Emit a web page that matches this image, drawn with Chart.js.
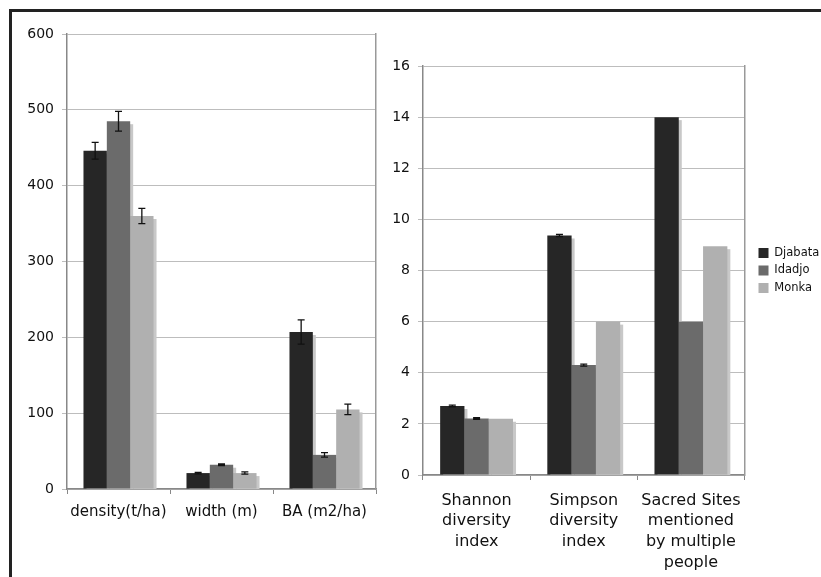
<!DOCTYPE html>
<html lang="en">
<head>
<meta charset="UTF-8">
<script src="https://cdn.jsdelivr.net/npm/chart.js"></script>
<title>Forest metrics</title>
<style>
  html, body { margin: 0; padding: 0; background: #fff; }
  #page { position: relative; width: 821px; height: 577px; overflow: hidden; }
  #frame { position: absolute; left: 9px; top: 9px; right: -10px; bottom: -10px;
           border-left: 3px solid #222; border-top: 3px solid #222; }
  .box { position: absolute; top: 0; height: 577px; }
</style>
</head>
<body>
<div id="page">
  <div id="frame"></div>
  <div class="box" style="left:0;width:400px"><canvas id="left"></canvas></div>
  <div class="box" style="left:390px;width:435px"><canvas id="right"></canvas></div>
</div>
<script>
// data
const sites = ['Djabata', 'Idadjo', 'Monka'];
const colors = ['#262626', '#6b6b6b', '#b0b0b0'];

const leftCats = ['density(t/ha)', 'width (m)', 'BA (m2/ha)'];
const djabataLeft = [446, 21, 207];
const idadjoLeft = [485, 32, 45];
const monkaLeft = [360, 21, 105];
const djabataLeftErr = [11, 1, 16];
const idadjoLeftErr = [13, 1, 3];
const monkaLeftErr = [10, 1.5, 7];
const leftTicks = [0, 100, 200, 300, 400, 500, 600];

const rightCats = [['Shannon', 'diversity', 'index'], ['Simpson', 'diversity', 'index'], ['Sacred Sites', 'mentioned', 'by multiple', 'people']];
const djabataRight = [2.7, 9.37, 14];
const idadjoRight = [2.21, 4.3, 6];
const monkaRight = [2.2, 6.0, 8.95];
const djabataRightErr = [0.03, 0.04, 0];
const idadjoRightErr = [0.03, 0.04, 0];
const monkaRightErr = [0, 0, 0];
const rightTicks = [0, 2, 4, 6, 8, 10, 12, 14, 16];

Chart.defaults.font.family = "'DejaVu Sans', Verdana, sans-serif";
Chart.defaults.color = '#111';
Chart.defaults.animation = false;

// grey drop shadow behind the bars, drawn from the bar elements
const shadow = {
  id: 'shadow',
  beforeDatasetsDraw(chart) {
    const c = chart.ctx;
    const a = chart.chartArea;
    c.save();
    c.beginPath();
    c.rect(a.left, a.top, a.right - a.left, a.bottom - a.top);
    c.clip();
    c.fillStyle = '#c8c8c8';
    chart.data.datasets.forEach((ds, di) => {
      chart.getDatasetMeta(di).data.forEach(bar => {
        const p = bar.getProps(['x', 'y', 'base', 'width'], true);
        c.fillRect(p.x - p.width / 2 + 3, p.y + 3, p.width, p.base - p.y);
      });
    });
    c.restore();
  }
};

// error bars, placed with the y scale
const errorBars = {
  id: 'errorBars',
  afterDatasetsDraw(chart) {
    const c = chart.ctx;
    const y = chart.scales.y;
    c.save();
    c.strokeStyle = '#111';
    c.lineWidth = 1.3;
    chart.data.datasets.forEach((ds, di) => {
      const meta = chart.getDatasetMeta(di);
      meta.data.forEach((bar, i) => {
        const e = ds.errors[i];
        if (!e) return;
        const top = y.getPixelForValue(ds.data[i] + e);
        const bot = y.getPixelForValue(ds.data[i] - e);
        c.beginPath();
        c.moveTo(bar.x, top); c.lineTo(bar.x, bot);
        c.moveTo(bar.x - 3.5, top); c.lineTo(bar.x + 3.5, top);
        c.moveTo(bar.x - 3.5, bot); c.lineTo(bar.x + 3.5, bot);
        c.stroke();
      });
    });
    c.restore();
  }
};

function makeSets(vals, errs) {
  return sites.map((s, k) => ({
    label: s,
    data: vals[k],
    errors: errs[k],
    backgroundColor: colors[k],
    borderWidth: 0,
    inflateAmount: 0,
    categoryPercentage: 0.68,
    barPercentage: 1
  }));
}

function makeChart(id, cats, sets, ticks, opt) {
  return new Chart(document.getElementById(id), {
    type: 'bar',
    data: { labels: cats, datasets: sets },
    plugins: [shadow, errorBars],
    options: {
      responsive: true,
      maintainAspectRatio: false,
      layout: { padding: { top: opt.top, right: opt.right, left: 0, bottom: 0 } },
      plugins: {
        tooltip: { enabled: false },
        legend: opt.legend
      },
      scales: {
        x: {
          grid: { drawOnChartArea: false, drawTicks: true, tickLength: 5, color: '#888', offset: true },
          border: { color: '#888', width: 1.5 },
          ticks: { font: { size: opt.catSize, lineHeight: 1.3 }, padding: opt.catPad, maxRotation: 0, color: '#111' },
          afterFit(s) { s.height = opt.xHeight; }
        },
        y: {
          min: 0,
          max: ticks[ticks.length - 1],
          afterBuildTicks(s) { s.ticks = ticks.map(v => ({ value: v })); },
          grid: { color: '#bdbdbd', lineWidth: 1, tickLength: 5 },
          border: { color: '#888', width: 1.5 },
          ticks: { font: { size: 14 }, padding: 8, color: '#111' },
          afterFit(s) { s.width = opt.yWidth; }
        },
        y2: {
          position: 'right',
          display: true,
          grid: { display: false },
          ticks: { display: false },
          border: { display: true, color: '#999', width: 1.5 },
          afterFit(s) { s.width = opt.gap; }
        }
      }
    }
  });
}

makeChart('left', leftCats,
  makeSets([djabataLeft, idadjoLeft, monkaLeft], [djabataLeftErr, idadjoLeftErr, monkaLeftErr]),
  leftTicks,
  { top: 34, right: 24, yWidth: 67, xHeight: 88, catSize: 15, catPad: 8, gap: 0, legend: { display: false } });

makeChart('right', rightCats,
  makeSets([djabataRight, idadjoRight, monkaRight], [djabataRightErr, idadjoRightErr, monkaRightErr]),
  rightTicks,
  { top: 66, right: 0, yWidth: 33, xHeight: 102, catSize: 16, catPad: 10, gap: 8,
    legend: {
      display: true,
      position: 'right',
      fullSize: false,
      labels: { boxWidth: 10, boxHeight: 10, padding: 6, font: { size: 11.5 }, color: '#111' }
    } });
</script>
</body>
</html>
